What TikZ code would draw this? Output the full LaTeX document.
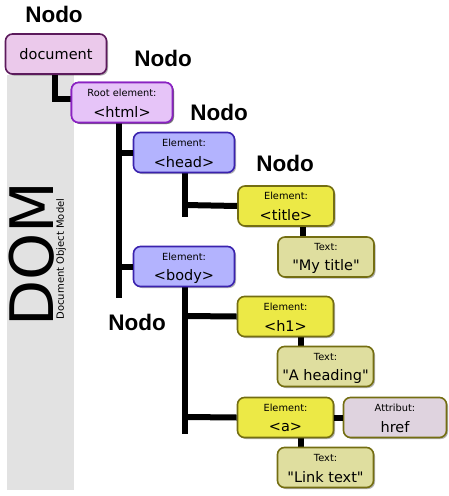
\documentclass[tikz,border=0pt]{standalone}
\usepackage{fontspec}
\setmainfont[Ligatures=TeXOff]{DejaVu Sans}
\newfontfamily\nodofont{Liberation Sans}
\usetikzlibrary{shadows}
\definecolor{docfill}{HTML}{EBC9EB}
\definecolor{docline}{HTML}{5C1A5C}
\definecolor{htmlfill}{HTML}{E6C4F8}
\definecolor{htmlline}{HTML}{8A22C2}
\definecolor{hbfill}{HTML}{B3B3FE}
\definecolor{hbline}{HTML}{3A22AE}
\definecolor{elfill}{HTML}{ECE946}
\definecolor{elline}{HTML}{746E12}
\definecolor{txfill}{HTML}{DFDE9F}
\definecolor{atfill}{HTML}{DFD3DF}
\definecolor{band}{HTML}{E2E2E2}
\newcommand{\dq}{{\char34}}
\tikzset{
  dombox/.style={draw, rounded corners=7pt, line width=1.6pt, inner sep=0pt,
    drop shadow={shadow xshift=1.5pt, shadow yshift=-1.5pt, opacity=0.3, fill=black}},
  docbox/.style={dombox, fill=docfill, draw=docline, minimum width=101pt, minimum height=40pt},
  htmlbox/.style={dombox, fill=htmlfill, draw=htmlline, minimum width=101pt, minimum height=40pt},
  hbbox/.style={dombox, fill=hbfill, draw=hbline, minimum width=101pt, minimum height=40pt},
  elbox/.style={dombox, fill=elfill, draw=elline, minimum width=96pt, minimum height=40pt},
  txbox/.style={dombox, fill=txfill, draw=elline, minimum width=96pt, minimum height=40pt},
  atbox/.style={dombox, fill=atfill, draw=elline, minimum width=103pt, minimum height=40pt},
  smalltxt/.style={font=\fontsize{9.8}{10}\selectfont, inner sep=0pt},
  bigtxt/.style={font=\fontsize{14.5}{15}\selectfont, inner sep=0pt},
  nodolbl/.style={font=\nodofont\bfseries\fontsize{22.5}{23}\selectfont, inner sep=0pt},
  tree/.style={line width=6pt, black}
}
\newcommand{\dombx}[6]{%
  \node[#4] (#1) at (#2,#3) {};
  \node[smalltxt] (#1s) at ([yshift=10pt]#1.center) {#5};
  \node[bigtxt] (#1b) at ([yshift=-9.5pt]#1.center) {#6};
}
\begin{document}
\begin{tikzpicture}[x=1pt,y=-1pt]
\useasboundingbox (0,0) rectangle (449,496);
% grey band
\fill[band] (7,75) rectangle (74,490);
\node[rotate=90, font=\fontsize{60}{60}\selectfont, inner sep=0pt] (dom) at (32,254) {DOM};
\node[rotate=90, font=\fontsize{10}{10}\selectfont, inner sep=0pt] (dommodel) at (61,259) {Document Object Model};

% tree lines
\coordinate (l1a) at (55,74);
\coordinate (l1b) at (55,99);
\coordinate (l1c) at (72,99);
\draw[tree] (l1a) -- (l1b) -- (l1c);
\coordinate (l2a) at (119,122);
\coordinate (l2b) at (119,298);
\draw[tree] (l2a) -- (l2b);
\coordinate (l2h) at (119,152.5);
\coordinate (l2y) at (119,266.5);
\coordinate (l3a) at (185,173);
\coordinate (l3b) at (185,217);
\coordinate (l3h) at (185,205);
\draw[tree] (l3a) -- (l3b);
\coordinate (l4a) at (185,287);
\coordinate (l4b) at (185,434);
\coordinate (l4h) at (185,316);
\coordinate (l4y) at (185,417);
\draw[tree] (l4a) -- (l4b);
\coordinate (c0) at (303,226);
\coordinate (c0b) at (303,237);
\draw[tree] (c0) -- (c0b);
\coordinate (c1) at (301,337);
\coordinate (c2) at (301,346);
\draw[tree] (c1) -- (c2);
\coordinate (c3) at (301,438);
\coordinate (c4) at (301,447);
\draw[tree] (c3) -- (c4);

% boxes
\node[docbox] (doc) at (56,54) {};
\node[bigtxt] (docb) at (doc.center) {document};
\dombx{html}{122}{102.5}{htmlbox}{Root element:}{<html>}
\dombx{head}{184}{152.5}{hbbox}{Element:}{<head>}
\dombx{body}{184}{266.5}{hbbox}{Element:}{<body>}
\dombx{title}{286}{206}{elbox}{Element:}{<title>}
\dombx{mytitle}{326}{257}{txbox}{T\kern-1.5pt ext:}{\dq My title\dq}
\dombx{h1}{285.5}{316.5}{elbox}{Element:}{<h1>}
\dombx{heading}{325.5}{366.5}{txbox}{T\kern-1.5pt ext:}{\dq A heading\dq}
\dombx{a}{285.5}{417.5}{elbox}{Element:}{<a>}
\dombx{href}{395}{417.5}{atbox}{Attribut:}{href}
\dombx{link}{325.5}{467.5}{txbox}{T\kern-1.5pt ext:}{\dq Link text\dq}

% branches
\draw[tree] (l2h) -- (head.west);
\draw[tree] (l2y) -- (body.west);
\draw[tree] (l3h) -- (title.west);
\draw[tree] (l4h) -- (h1.west);
\draw[tree] (l4y) -- (a.west);
\draw[tree] (a.east) -- (href.west);
% redraw html box over its connector
\node[htmlbox] at (122,102.5) {};
\node[smalltxt] at (122,92.5) {Root element:};
\node[bigtxt] at (122,112) {<html>};

% Nodo labels
\node[nodolbl] (n1) at (54,14) {Nodo};
\node[nodolbl] (n2) at (163,58) {Nodo};
\node[nodolbl] (n3) at (219,112) {Nodo};
\node[nodolbl] (n4) at (285,163) {Nodo};
\node[nodolbl] (n5) at (137,322) {Nodo};
\end{tikzpicture}
\end{document}
